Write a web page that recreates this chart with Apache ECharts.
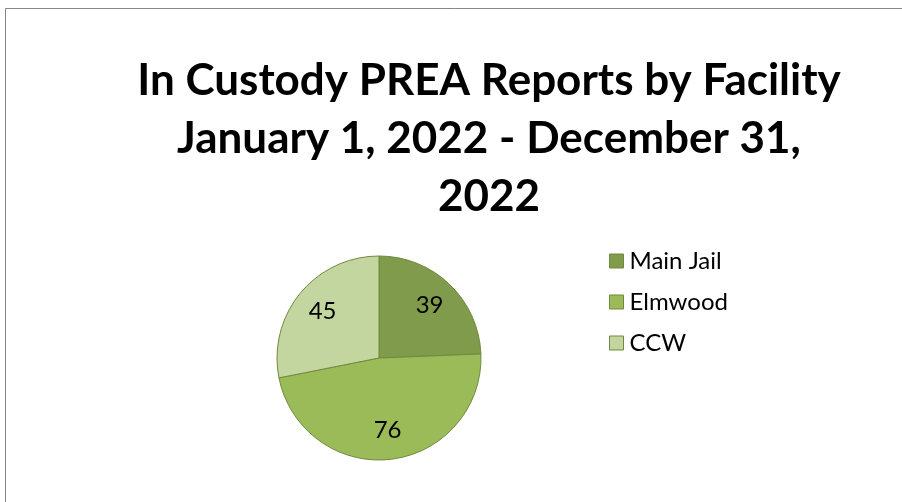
<!DOCTYPE html>
<html>
<head>
<meta charset="utf-8">
<script src="https://cdn.jsdelivr.net/npm/echarts@6/dist/echarts.min.js"></script>
<style>
  html, body { margin: 0; padding: 0; background: #fff; }
  #chart { width: 902px; height: 502px; }
</style>
</head>
<body>
<div id="chart"></div>
<script>
// Facilities and report counts for calendar year 2022
const facilities = ['Main Jail', 'Elmwood', 'CCW'];
const reportCounts = [39, 76, 45];
const sliceColors = ['#7F9B4B', '#9BBB59', '#C4D6A0'];
const titleLines = ['In Custody PREA Reports by Facility', 'January 1, 2022 - December 31,', '2022'];

const FONT = 'Lato, "Open Sans", sans-serif';

const pieData = facilities.map((name, i) => ({
  name: name,
  value: reportCounts[i],
  itemStyle: { color: sliceColors[i] }
}));

const chart = echarts.init(document.getElementById('chart'), null, { renderer: 'canvas' });
chart.setOption({
  animation: false,
  backgroundColor: '#ffffff',
  graphic: [{
    type: 'rect',
    shape: { x: 5.5, y: 8.5, width: 1000, height: 600 },
    style: { fill: 'none', stroke: '#868686', lineWidth: 1 },
    silent: true
  }],
  title: {
    text: titleLines.join('\n'),
    left: 484,
    top: 47,
    textAlign: 'center',
    textStyle: {
      fontFamily: FONT,
      fontWeight: 'bold',
      fontSize: 44,
      lineHeight: 58,
      color: '#000000'
    }
  },
  legend: {
    orient: 'vertical',
    left: 604,
    top: 244,
    itemGap: 17,
    itemWidth: 14,
    itemHeight: 14,
    icon: 'rect',
    data: facilities,
    itemStyle: { borderColor: '#71893F', borderWidth: 1 },
    textStyle: { fontFamily: FONT, fontSize: 24, color: '#000000', padding: [0, 0, 0, 1] }
  },
  series: [
    {
      type: 'pie',
      center: [379, 358],
      radius: [0, 102],
      startAngle: 90,
      clockwise: true,
      silent: true,
      data: pieData,
      label: { show: false },
      labelLine: { show: false },
      itemStyle: { borderColor: '#71893F', borderWidth: 1 }
    },
    {
      // transparent twin that only carries the value labels further out
      type: 'pie',
      center: [379, 358],
      radius: [0, 140],
      startAngle: 90,
      clockwise: true,
      silent: true,
      data: pieData.map(d => ({ name: d.name, value: d.value })),
      itemStyle: { color: 'rgba(0,0,0,0)' },
      label: {
        show: true,
        position: 'inside',
        formatter: '{c}',
        fontFamily: FONT,
        fontSize: 24,
        color: '#000000'
      },
      labelLine: { show: false },
      legendHoverLink: false
    }
  ]
});
</script>
</body>
</html>
